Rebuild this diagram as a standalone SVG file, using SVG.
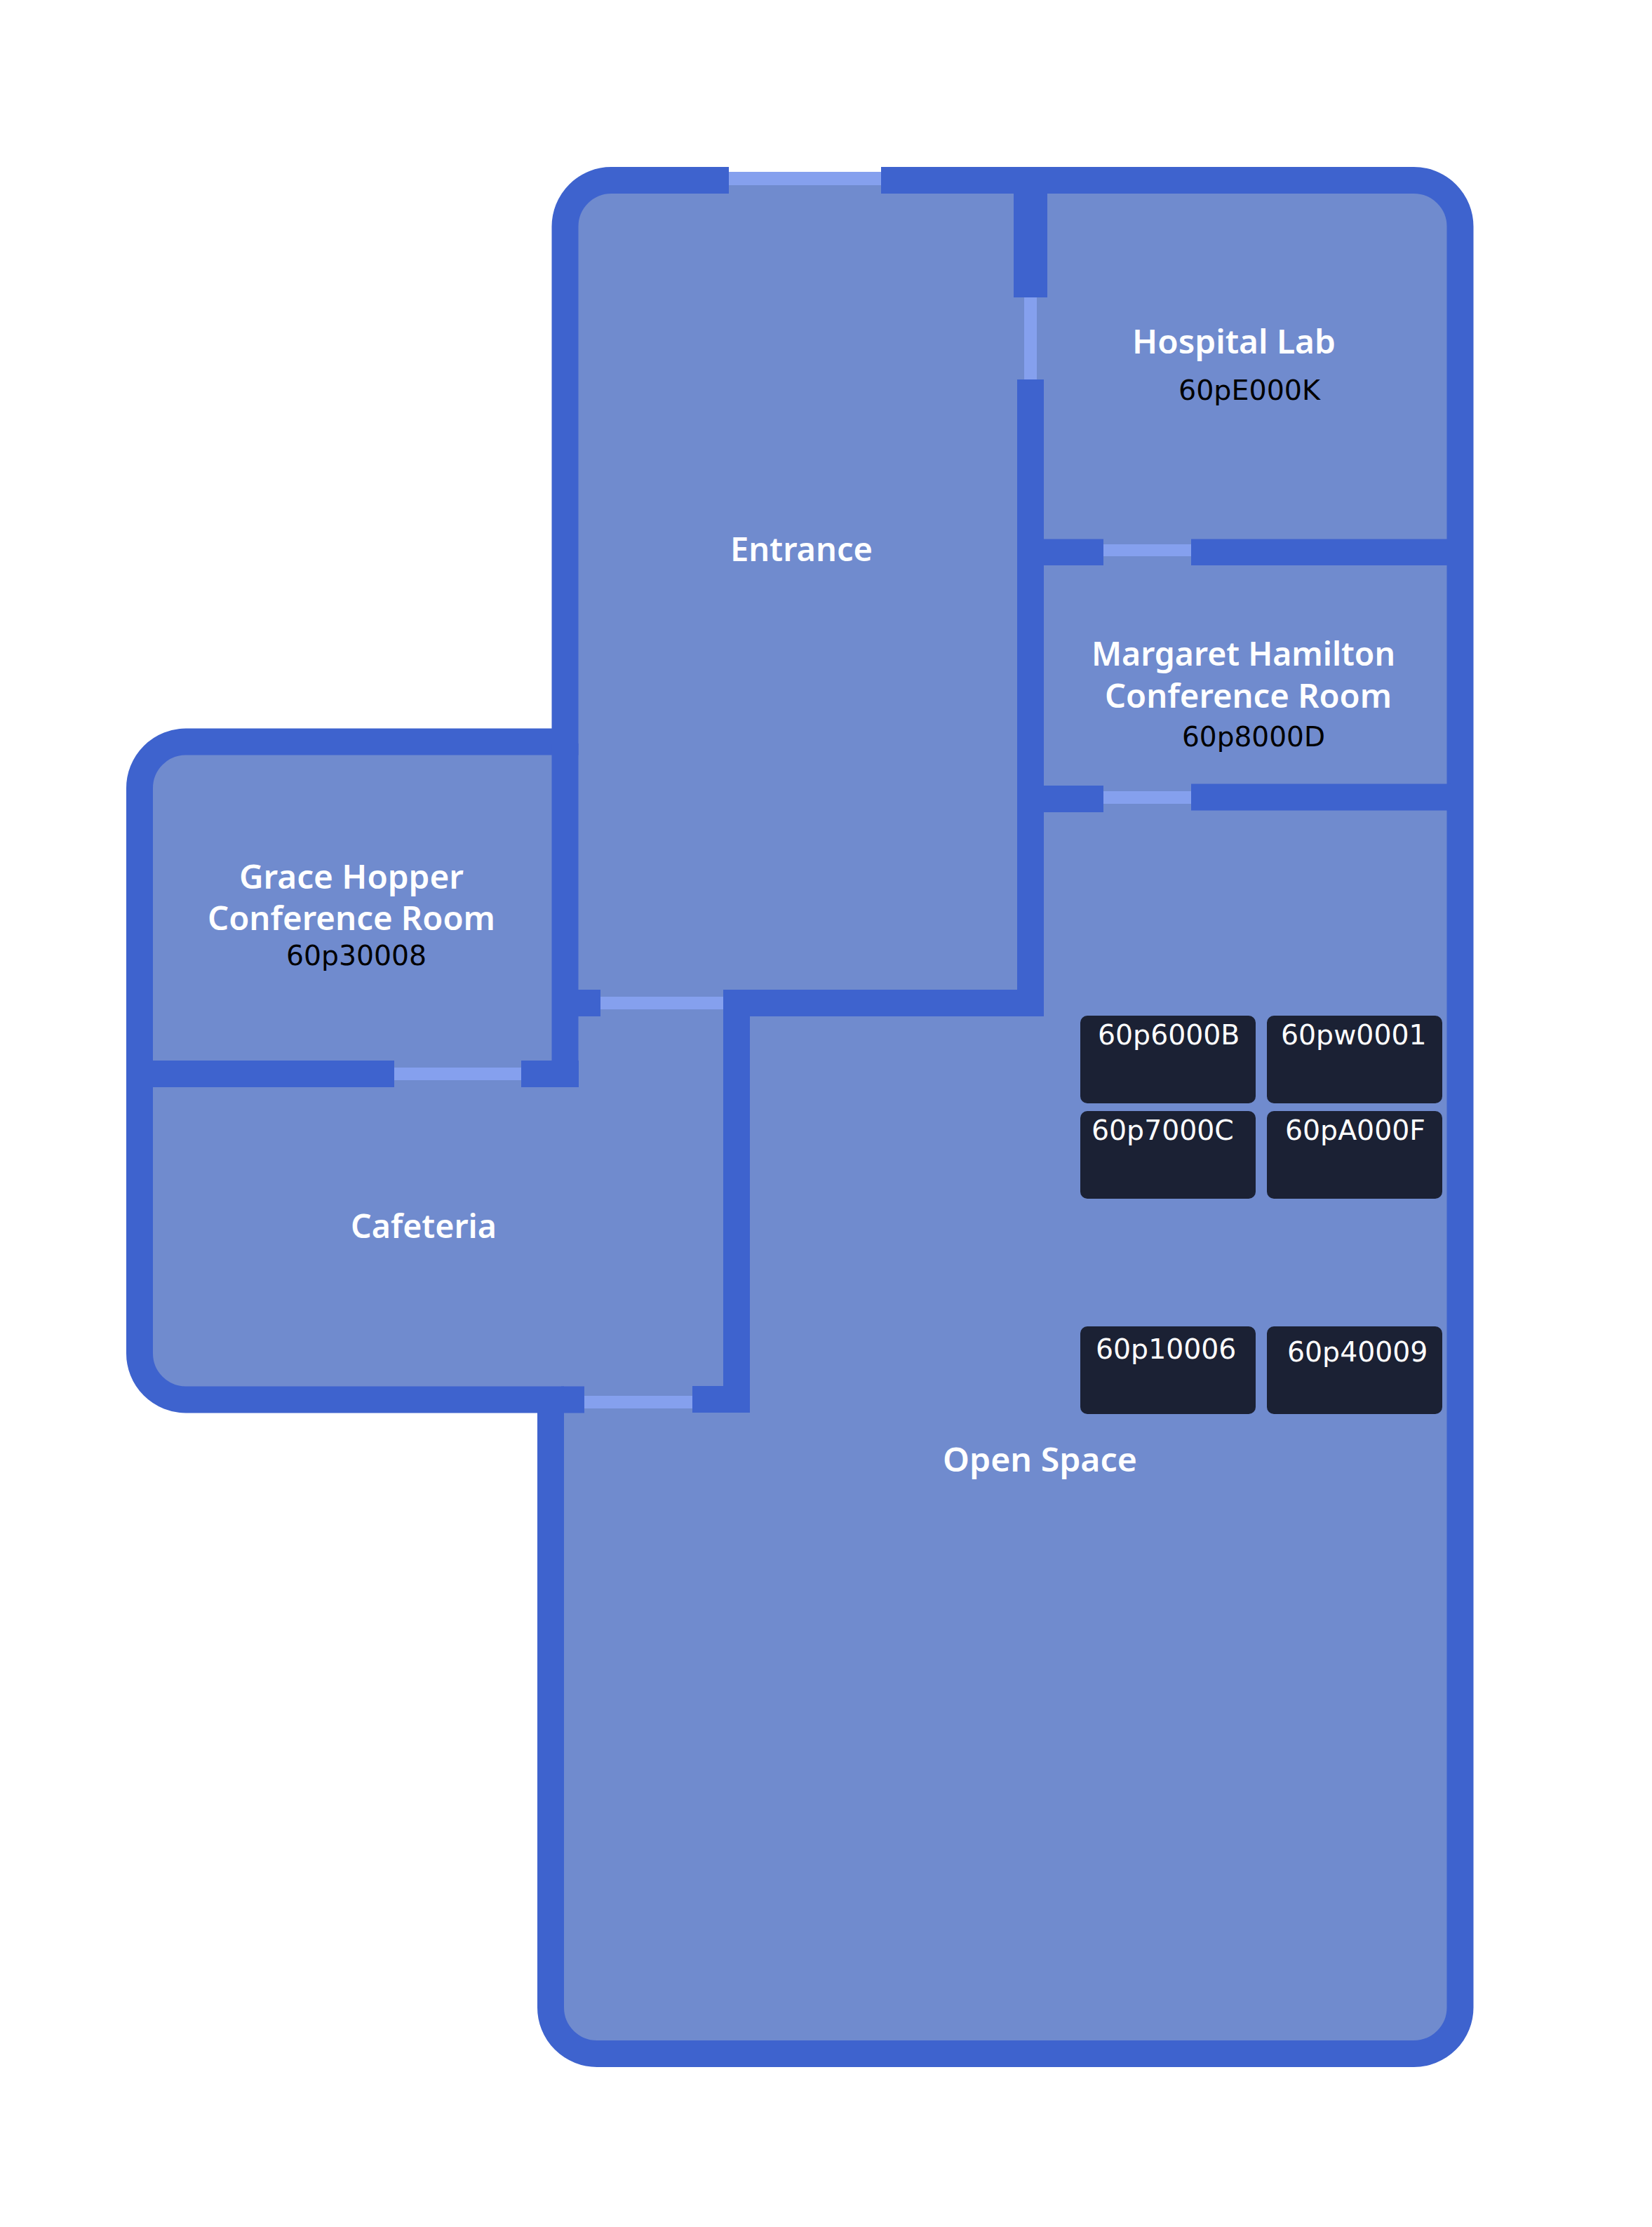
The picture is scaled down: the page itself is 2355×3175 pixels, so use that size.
<svg xmlns="http://www.w3.org/2000/svg" width="2355" height="3175" viewBox="0 0 2355 3175">
<style>
.wall{fill:#3e63ce}
.door{fill:#85a0ee}
.desk{fill:#1b2134}
.name{font-family:"Noto Sans","Open Sans",sans-serif;font-weight:600;font-size:46px;fill:#fff}
.id{font-family:"DejaVu Sans",sans-serif;font-size:39.4px;fill:#000}
.idw{font-family:"DejaVu Sans",sans-serif;font-size:39.4px;fill:#fff}
</style>
<rect width="2355" height="3175" fill="#fff"/>
<g id="floor">
<path fill="#708bce" d="M1039 257H1256H2015.5A66 66 0 0 1 2081.5 323V2862A66 66 0 0 1 2015.5 2928H851A66 66 0 0 1 785 2862V1995.5H265A66 66 0 0 1 199 1929.5V1123.5A66 66 0 0 1 265 1057.5H805.5V323A66 66 0 0 1 871.5 257Z"/>
</g>
<g id="walls">
<path fill="none" stroke="#3e63ce" stroke-width="38" d="M1256 257H2015.5A66 66 0 0 1 2081.5 323V2862A66 66 0 0 1 2015.5 2928H851A66 66 0 0 1 785 2862V1995.5H265A66 66 0 0 1 199 1929.5V1123.5A66 66 0 0 1 265 1057.5H805.5V323A66 66 0 0 1 871.5 257H1039"/>
<rect class="wall" x="1445" y="270" width="48" height="154"/>
<rect class="wall" x="1450" y="541" width="38" height="908"/>
<rect class="wall" x="1488" y="768.5" width="85" height="37.5"/>
<rect class="wall" x="1698" y="768.5" width="370" height="37.5"/>
<rect class="wall" x="1488" y="1120" width="85" height="38"/>
<rect class="wall" x="1698" y="1117.5" width="370" height="38"/>
<rect class="wall" x="1031" y="1411" width="457" height="38"/>
<rect class="wall" x="1031" y="1411" width="38" height="603"/>
<rect class="wall" x="987" y="1976" width="82" height="38"/>
<rect class="wall" x="786.5" y="1060" width="38" height="490"/>
<rect class="wall" x="824" y="1411" width="32" height="38"/>
<rect class="wall" x="743" y="1512" width="82" height="38"/>
<rect class="wall" x="210" y="1512" width="352" height="38"/>
<rect class="wall" x="800" y="1976.5" width="33" height="38"/>
</g>
<g id="doors">
<rect class="door" x="1039" y="245" width="217" height="19"/>
<rect class="door" x="1460" y="424" width="18" height="117"/>
<rect class="door" x="1573" y="776" width="125" height="17"/>
<rect class="door" x="1573" y="1128" width="125" height="18"/>
<rect class="door" x="856" y="1421" width="175" height="18"/>
<rect class="door" x="562" y="1522" width="181" height="18"/>
<rect class="door" x="833" y="1990" width="154" height="18"/>
</g>
<g id="room-entrance"><text class="name" x="1041" y="800" textLength="203" lengthAdjust="spacingAndGlyphs">Entrance</text></g>
<g id="room-hospital-lab">
<text class="name" x="1614" y="504" textLength="290" lengthAdjust="spacingAndGlyphs">Hospital Lab</text>
<text class="id" x="1680" y="570" textLength="202" lengthAdjust="spacingAndGlyphs">60pE000K</text>
</g>
<g id="room-margaret-hamilton">
<text class="name" x="1556" y="949" textLength="433" lengthAdjust="spacingAndGlyphs">Margaret Hamilton</text>
<text class="name" x="1575" y="1009" textLength="409" lengthAdjust="spacingAndGlyphs">Conference Room</text>
<text class="id" x="1685" y="1064" textLength="204" lengthAdjust="spacingAndGlyphs">60p8000D</text>
</g>
<g id="room-grace-hopper">
<text class="name" x="341" y="1267" textLength="320" lengthAdjust="spacingAndGlyphs">Grace Hopper</text>
<text class="name" x="296" y="1326" textLength="410" lengthAdjust="spacingAndGlyphs">Conference Room</text>
<text class="id" x="408" y="1376" textLength="200" lengthAdjust="spacingAndGlyphs">60p30008</text>
</g>
<g id="room-cafeteria"><text class="name" x="500" y="1765" textLength="208" lengthAdjust="spacingAndGlyphs">Cafeteria</text></g>
<g id="room-open-space"><text class="name" x="1344" y="2098" textLength="277" lengthAdjust="spacingAndGlyphs">Open Space</text></g>
<g id="desk-60p6000B"><rect class="desk" x="1540" y="1448" width="250" height="125" rx="10"/><text class="idw" x="1565" y="1488.5">60p6000B</text></g>
<g id="desk-60pw0001"><rect class="desk" x="1806" y="1448" width="250" height="125" rx="10"/><text class="idw" x="1826" y="1488.5">60pw0001</text></g>
<g id="desk-60p7000C"><rect class="desk" x="1540" y="1584" width="250" height="125" rx="10"/><text class="idw" x="1556" y="1624.5">60p7000C</text></g>
<g id="desk-60pA000F"><rect class="desk" x="1806" y="1584" width="250" height="125" rx="10"/><text class="idw" x="1832" y="1624.5">60pA000F</text></g>
<g id="desk-60p10006"><rect class="desk" x="1540" y="1891" width="250" height="125" rx="10"/><text class="idw" x="1562" y="1937">60p10006</text></g>
<g id="desk-60p40009"><rect class="desk" x="1806" y="1891" width="250" height="125" rx="10"/><text class="idw" x="1835" y="1941">60p40009</text></g>
</svg>
